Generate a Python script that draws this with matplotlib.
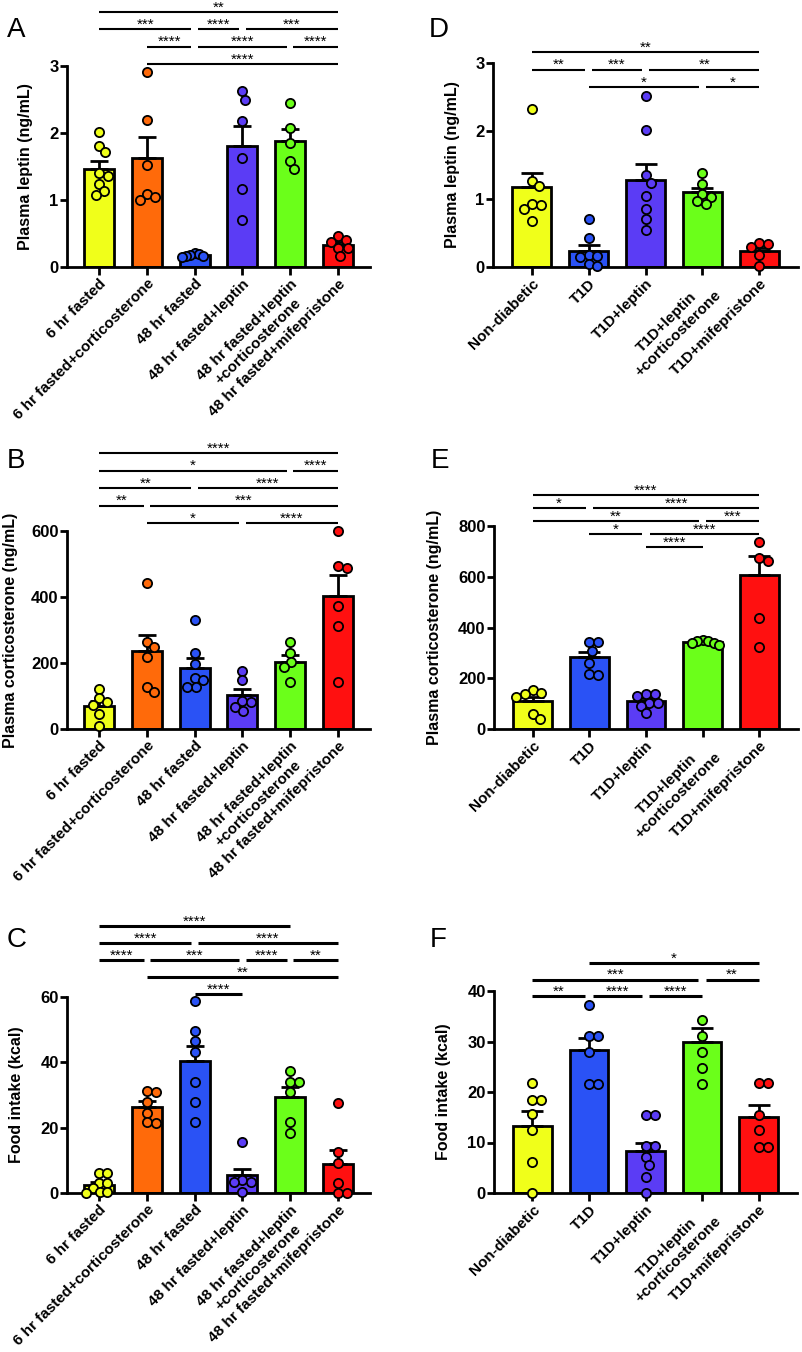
import numpy as np
import matplotlib
matplotlib.use("Agg")
import matplotlib.pyplot as plt
from matplotlib import transforms

plt.rcParams['font.family'] = ['Liberation Sans', 'DejaVu Sans']

# ---------------- data ----------------
left_labels = ['6 hr fasted', '6 hr fasted+corticosterone', '48 hr fasted',
               '48 hr fasted+leptin', '48 hr fasted+leptin\n+corticosterone',
               '48 hr fasted+mifepristone']
right_labels = ['Non-diabetic', 'T1D', 'T1D+leptin', 'T1D+leptin\n+corticosterone',
                'T1D+mifepristone']

YEL, ORG, BLU, PUR, GRN, RED = '#F0FF1A', '#FF6A0A', '#2A52F5', '#5B3CF5', '#6BFF1A', '#FF1010'
left_colors = [YEL, ORG, BLU, PUR, GRN, RED]
right_colors = [YEL, BLU, PUR, GRN, RED]

# Panel A - plasma leptin (fasting)
A_means = [1.47, 1.63, 0.18, 1.80, 1.88, 0.33]
A_sems = [0.11, 0.31, 0.02, 0.31, 0.18, 0.05]
A_points = [[2.02, 1.81, 1.71, 1.40, 1.36, 1.24, 1.13, 1.08],
            [2.91, 2.19, 1.52, 1.09, 1.04, 1.00],
            [0.21, 0.19, 0.18, 0.17, 0.16, 0.15],
            [2.62, 2.49, 2.18, 1.63, 1.17, 0.70],
            [2.45, 2.07, 1.85, 1.58, 1.46],
            [0.47, 0.41, 0.38, 0.29, 0.28, 0.16]]
A_comps = [(1, 5, '****', 0), (1, 2, '****', 1), (2, 4, '****', 1), (4, 5, '****', 1),
           (0, 2, '***', 2), (2, 3, '****', 2), (3, 5, '***', 2), (0, 5, '**', 3)]

# Panel B - plasma corticosterone (fasting)
B_means = [71, 237, 186, 102, 203, 404]
B_sems = [15, 47, 28, 19, 21, 63]
B_points = [[121, 93, 83, 73, 45, 10],
            [441, 265, 248, 217, 127, 112],
            [330, 230, 197, 155, 150, 128, 126],
            [176, 147, 84, 82, 68, 55],
            [263, 229, 202, 187, 141],
            [600, 494, 488, 373, 313, 142]]
B_comps = [(1, 3, '*', 0), (3, 5, '****', 0), (0, 1, '**', 1), (1, 5, '***', 1),
           (0, 2, '**', 2), (2, 5, '****', 2), (0, 4, '*', 3), (4, 5, '****', 3),
           (0, 5, '****', 4)]

# Panel C - food intake (fasting)
C_means = [2.6, 26.2, 40.3, 5.4, 29.5, 8.8]
C_sems = [0.8, 1.9, 4.8, 2.0, 3.0, 4.3]
C_points = [[6.1, 6.1, 3.1, 3.1, 1.5, 0.3, 0.2, 0.0],
            [31.2, 31.0, 27.9, 24.4, 21.6, 21.3],
            [58.9, 49.6, 46.6, 43.3, 34.1, 27.8, 21.6],
            [15.5, 4.0, 3.4, 3.4, 0.2],
            [37.2, 34.1, 34.1, 31.0, 21.6, 18.5],
            [27.7, 12.4, 9.2, 3.1, 0.0, 0.0]]
C_comps = [(2, 3, '****', 0), (1, 5, '**', 1), (0, 1, '****', 2), (1, 3, '***', 2),
           (3, 4, '****', 2), (4, 5, '**', 2), (0, 2, '****', 3), (2, 5, '****', 3),
           (0, 4, '****', 4)]

# Panel D - plasma leptin (T1D)
D_means = [1.17, 0.24, 1.28, 1.10, 0.23]
D_sems = [0.21, 0.09, 0.24, 0.06, 0.05]
D_points = [[2.33, 1.27, 1.19, 0.93, 0.91, 0.86, 0.68],
            [0.70, 0.43, 0.18, 0.16, 0.15, 0.04, 0.02],
            [2.51, 2.01, 1.35, 1.24, 1.05, 0.85, 0.71, 0.55],
            [1.38, 1.22, 1.08, 1.03, 0.97, 0.92],
            [0.35, 0.34, 0.30, 0.17, 0.01]]
D_comps = [(1, 3, '*', 0), (3, 4, '*', 0), (0, 1, '**', 1), (1, 2, '***', 1),
           (2, 4, '**', 1), (0, 4, '**', 2)]

# Panel E - plasma corticosterone (T1D)
E_means = [109, 282, 111, 341, 607]
E_sems = [17, 22, 12, 5, 75]
E_points = [[155, 143, 137, 126, 61, 39],
            [342, 341, 308, 261, 216, 211],
            [137, 137, 129, 104, 103, 91, 63],
            [350, 345, 345, 340, 338, 330],
            [736, 672, 663, 438, 324]]
E_comps = [(2, 3, '****', 0), (1, 2, '*', 1), (2, 4, '****', 1), (0, 3, '**', 2),
           (3, 4, '***', 2), (0, 1, '*', 3), (1, 4, '****', 3), (0, 4, '****', 4)]

# Panel F - food intake (T1D)
F_means = [13.3, 28.4, 8.25, 30.0, 15.0]
F_sems = [2.9, 2.3, 1.75, 2.7, 2.4]
F_points = [[21.8, 18.5, 18.5, 15.7, 12.4, 6.1, 0.0],
            [37.2, 31.0, 31.0, 27.9, 21.6, 21.6],
            [15.5, 15.5, 9.3, 9.3, 7.1, 5.5, 3.2, 0.0],
            [34.2, 31.0, 27.9, 24.8, 21.6],
            [21.8, 21.8, 15.5, 12.4, 9.2, 9.2]]
F_comps = [(0, 1, '**', 0), (1, 2, '****', 0), (2, 3, '****', 0), (0, 3, '***', 1),
           (3, 4, '**', 1), (1, 4, '*', 2)]

# ---------------- drawing ----------------
FW, FH = 802, 1352
fig = plt.figure(figsize=(FW / 100, FH / 100), dpi=100)


def axes_px(l, r, t, b):
    return fig.add_axes([l / FW, 1 - b / FH, (r - l) / FW, (b - t) / FH])


def swarm(vals, ax, d_px, max_px):
    T = ax.transData
    vals = np.asarray(vals, float)
    ypx = T.transform(np.column_stack([np.zeros(len(vals)), vals]))[:, 1]
    ux = T.transform([[1, 0]])[0, 0] - T.transform([[0, 0]])[0, 0]
    placed = []
    offs = np.zeros(len(vals))
    for k in np.argsort(-vals, kind='stable'):
        y = ypx[k]
        cands = [0.0]
        for px, py in placed:
            dy = abs(py - y)
            if dy < d_px:
                dx = np.sqrt(d_px ** 2 - dy ** 2)
                cands += [px + dx, px - dx]
        cands.sort(key=abs)
        for c in cands:
            if all((c - px) ** 2 + (y - py) ** 2 >= d_px ** 2 - 1e-6 for px, py in placed):
                break
        placed.append((c, y))
        offs[k] = c
    m = np.max(np.abs(offs)) if len(offs) else 0
    if m > max_px:
        offs *= max_px / m
    return offs / ux


def panel(rect, labels, means, sems, points, colors, ylim, yticks, ylabel, comps,
          width, base_px, step_px, sig_lw, ylab_px, letter, letter_xy):
    l, r, t, b = rect
    ax = axes_px(l, r, t, b)
    n = len(means)
    x = np.arange(n)
    ax.set_xlim(-0.67 if n == 6 else -0.68, n - 1 + (0.67 if n == 6 else 0.68))
    ax.set_ylim(*ylim)
    ax.bar(x, means, width=width, color=colors, edgecolor='black', linewidth=2.0, zorder=2)
    ax.errorbar(x, means, yerr=[np.zeros(n), sems], fmt='none', ecolor='black',
                elinewidth=2.0, capsize=6.5 if n == 6 else 8, capthick=2.0, zorder=3)
    bar_px = width * (r - l) / (ax.get_xlim()[1] - ax.get_xlim()[0])
    for i, pts in enumerate(points):
        off = swarm(pts, ax, 9.0, 0.42 * bar_px)
        ax.scatter(i + off, pts, s=44, color=colors[i], edgecolors='black',
                   linewidths=1.3, zorder=4, clip_on=False)
    for s in ['top', 'right']:
        ax.spines[s].set_visible(False)
    for s in ['left', 'bottom']:
        ax.spines[s].set_linewidth(2.0)
    ax.set_yticks(yticks, [str(v) for v in yticks], fontsize=12, fontweight='bold')
    ax.set_xticks(x, labels, rotation=45, ha='right', va='top', rotation_mode='anchor',
                  multialignment='center', fontsize=11, fontweight='bold')
    ax.tick_params(axis='y', length=5, width=2, pad=1)
    ax.tick_params(axis='x', length=6, width=2, pad=1)
    ax.set_ylabel(ylabel, fontsize=11.5, fontweight='bold', va='center')
    ax.yaxis.set_label_coords((ylab_px - l) / (r - l), 0.5)

    h = b - t
    trans = transforms.blended_transform_factory(ax.transData, ax.transAxes)
    ttrans = transforms.offset_copy(trans, fig=fig, y=0.5, units='points')
    g = 0.13
    for (i, j, stars, tier) in comps:
        yax = 1 + (base_px + tier * step_px) / h
        x1, x2 = float(i), float(j)
        same = [c for c in comps if c[3] == tier]
        if any(c[1] == i for c in same):
            x1 += g / 2
        if any(c[0] == j for c in same):
            x2 -= g / 2
        ax.plot([x1, x2], [yax, yax], transform=trans, color='black', lw=sig_lw,
                clip_on=False, solid_capstyle='butt')
        ax.text((x1 + x2) / 2, yax, stars, transform=ttrans, ha='center', va='baseline',
                fontsize=11, clip_on=False)
    fig.text(letter_xy[0] / FW, 1 - letter_xy[1] / FH, letter, fontsize=20,
             ha='left', va='baseline')
    return ax


panel((67, 370, 66, 267), left_labels, A_means, A_sems, A_points, left_colors, (0, 3),
      [0, 1, 2, 3], 'Plasma leptin (ng/mL)', A_comps, 0.63, 2, 17.3, 1.5, 26, 'A', (7, 37))
panel((67, 370, 531, 729), left_labels, B_means, B_sems, B_points, left_colors, (0, 600),
      [0, 200, 400, 600], 'Plasma corticosterone (ng/mL)', B_comps, 0.63, 8, 17.5, 1.5, 11,
      'B', (7, 468))
panel((67, 370, 997, 1193), left_labels, C_means, C_sems, C_points, left_colors, (0, 60),
      [0, 20, 40, 60], 'Food intake (kcal)', C_comps, 0.63, 3, 17, 2.2, 17, 'C', (7, 947))
panel((493, 798, 63, 267), right_labels, D_means, D_sems, D_points, right_colors, (0, 3),
      [0, 1, 2, 3], 'Plasma leptin (ng/mL)', D_comps, 0.68, -24, 17.5, 1.5, 453, 'D', (429, 37))
panel((494, 798, 526, 729), right_labels, E_means, E_sems, E_points, right_colors, (0, 800),
      [0, 200, 400, 600, 800], 'Plasma corticosterone (ng/mL)', E_comps, 0.68, -21, 13, 1.5,
      434, 'E', (431, 468))
panel((494, 797, 991, 1193), right_labels, F_means, F_sems, F_points, right_colors, (0, 40),
      [0, 10, 20, 30, 40], 'Food intake (kcal)', F_comps, 0.68, -5, 16.5, 2.2, 443, 'F',
      (430, 947))

fig.savefig('out.png', dpi=100)
